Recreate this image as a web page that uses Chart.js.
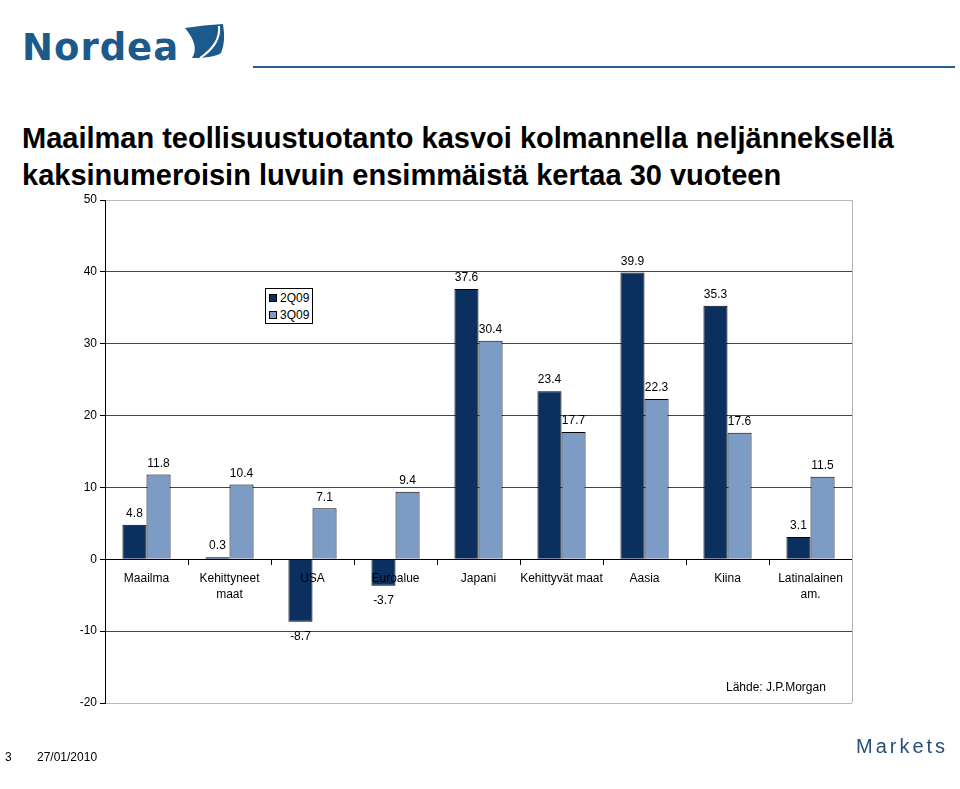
<!DOCTYPE html>
<html>
<head>
<meta charset="utf-8">
<script src="https://cdn.jsdelivr.net/npm/chart.js@4.4.1/dist/chart.umd.min.js"></script>
<style>
  body { margin: 0; width: 960px; height: 789px; position: relative; overflow: hidden; background: #fff;
         font-family: "Liberation Sans", Arial, sans-serif; color: #000; }
  #chart { position: absolute; left: 0; top: 0; }
  .logo { position: absolute; left: 22px; top: 26px; font-family: "DejaVu Sans", sans-serif; font-weight: bold;
          font-size: 37px; line-height: 44px; color: #1d5a8c; letter-spacing: 1px; }
  .sail { position: absolute; left: 180px; top: 22px; }
  .rule { position: absolute; left: 253px; top: 66px; width: 702px; height: 2px; background: #2b5f8f; }
  .title { position: absolute; left: 22px; top: 120px; font-size: 29px; line-height: 37px; font-weight: bold; white-space: nowrap; }
  .legend { position: absolute; left: 265px; top: 288px; width: 46px; height: 34px; border: 1px solid #000; background: #fff; font-size: 12px; }
  .legend div { position: absolute; left: 3px; height: 16px; line-height: 16px; white-space: nowrap; }
  .legend span { display: inline-block; width: 6px; height: 6px; border: 1px solid #000; margin-right: 3px; vertical-align: 0px; }
  .source { position: absolute; left: 726px; top: 680px; font-size: 12px; }
  .foot { position: absolute; top: 750px; font-size: 12px; }
  .markets { position: absolute; left: 856px; top: 735px; font-size: 20px; letter-spacing: 3px; color: #264f7a; }
</style>
</head>
<body>
<div class="logo">Nordea</div>
<svg class="sail" width="50" height="50" viewBox="0 0 50 50">
  <path d="M5 6 Q24 3 43 2 Q46 20 41 31 Q34 36 12 36 Q20 24 5 6 Z" fill="#1d5a8c"/>
  <path d="M39 4 Q41 22 20 36" stroke="#fff" stroke-width="2" fill="none"/>
</svg>
<div class="rule"></div>
<div class="title">Maailman teollisuustuotanto kasvoi kolmannella neljänneksellä<br>kaksinumeroisin luvuin ensimmäistä kertaa 30 vuoteen</div>
<canvas id="chart" width="960" height="789"></canvas>
<div class="legend" id="legend"></div>
<div class="source">Lähde: J.P.Morgan</div>
<div class="foot" style="left:5px">3</div>
<div class="foot" style="left:37px">27/01/2010</div>
<div class="markets">Markets</div>
<script>
const categories = [["Maailma"], ["Kehittyneet", "maat"], ["USA"], ["Euroalue"], ["Japani"],
                    ["Kehittyvät maat"], ["Aasia"], ["Kiina"], ["Latinalainen", "am."]];
const seriesNames = ["2Q09", "3Q09"];
const values2Q09 = [4.8, 0.3, -8.7, -3.7, 37.6, 23.4, 39.9, 35.3, 3.1];
const values3Q09 = [11.8, 10.4, 7.1, 9.4, 30.4, 17.7, 22.3, 17.6, 11.5];
const seriesColors = ["#0b2f5f", "#7d9cc5"];
const yMin = -20, yMax = 50, yStep = 10;

const FONT = '"Liberation Sans", Arial, sans-serif';

// numbers above / below bars
const valueLabels = {
  id: "valueLabels",
  afterDraw(chart) {
    const ctx = chart.ctx;
    ctx.save();
    ctx.font = "12px " + FONT;
    ctx.fillStyle = "#000";
    ctx.textAlign = "center";
    chart.data.datasets.forEach((ds, i) => {
      chart.getDatasetMeta(i).data.forEach((bar, j) => {
        const v = ds.data[j];
        if (v >= 0) {
          ctx.textBaseline = "bottom";
          ctx.fillText(v.toFixed(1), bar.x, bar.y - 5);
        } else {
          ctx.textBaseline = "top";
          ctx.fillText(v.toFixed(1), bar.x, bar.y + 9);
        }
      });
    });
    ctx.restore();
  }
};

// grey frame on the right side of the plot
const frame = {
  id: "frame",
  beforeDatasetsDraw(chart) {
    const a = chart.chartArea, ctx = chart.ctx;
    ctx.save();
    ctx.strokeStyle = "#b8b8b8";
    ctx.lineWidth = 1;
    ctx.beginPath();
    ctx.moveTo(a.right + 0.5, a.top);
    ctx.lineTo(a.right + 0.5, a.bottom);
    ctx.stroke();
    ctx.restore();
  }
};

const chart = new Chart(document.getElementById("chart"), {
  type: "bar",
  data: {
    labels: categories,
    datasets: [
      { label: seriesNames[0], data: values2Q09, backgroundColor: seriesColors[0], borderColor: "#000",
        borderWidth: 1, categoryPercentage: 0.58, barPercentage: 1 },
      { label: seriesNames[1], data: values3Q09, backgroundColor: seriesColors[1], borderColor: "#000",
        borderWidth: 1, categoryPercentage: 0.58, barPercentage: 1 }
    ]
  },
  options: {
    responsive: false,
    animation: false,
    layout: { padding: { left: 60, right: 108, top: 200, bottom: 86 } },
    plugins: { legend: { display: false }, tooltip: { enabled: false } },
    scales: {
      x: {
        position: { y: 0 },
        offset: true,
        grid: { offset: true, drawOnChartArea: false, drawTicks: true, tickLength: 5, tickColor: "#000" },
        border: { color: "#000", width: 1 },
        ticks: { z: 1, color: "#000", font: { family: FONT, size: 12, lineHeight: 1.33 }, padding: 6,
                 maxRotation: 0, autoSkip: false },
        afterFit(s) { s.height = 0; }
      },
      y: {
        min: yMin, max: yMax,
        ticks: { stepSize: yStep, color: "#000", font: { family: FONT, size: 12 }, padding: 3 },
        grid: {
          color: c => (c.tick.value === yMax || c.tick.value === yMin) ? "#b8b8b8" : (c.tick.value === 0 ? "#000" : "#444"),
          tickColor: "#000", tickLength: 5
        },
        border: { color: "#000", width: 1 },
        afterFit(s) { s.width = 45; }
      }
    }
  },
  plugins: [valueLabels, frame]
});

// legend box
const legend = document.getElementById("legend");
chart.data.datasets.forEach((ds, i) => {
  const row = document.createElement("div");
  row.style.top = (1 + i * 17) + "px";
  row.innerHTML = '<span style="background:' + ds.backgroundColor + '"></span>' + ds.label;
  legend.appendChild(row);
});
</script>
</body>
</html>
